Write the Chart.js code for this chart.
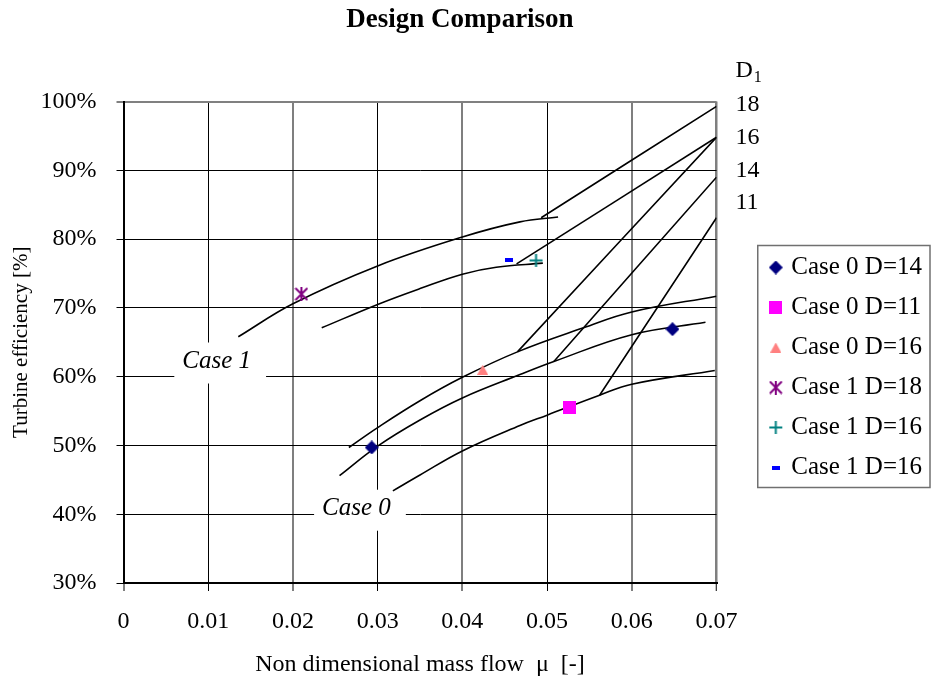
<!DOCTYPE html>
<html lang="en">
<head>
<meta charset="UTF-8" />
<title>Design Comparison</title>
<script src="https://cdn.jsdelivr.net/npm/chart.js@4.4.0"></script>
<style>
  html, body { margin: 0; padding: 0; background: #fff; }
</style>
</head>
<body>
<canvas id="designChart" width="932" height="682"></canvas>

<script>
  // axis ticks
  const xTickValues = [0, 0.01, 0.02, 0.03, 0.04, 0.05, 0.06, 0.07];
  const xTickLabels = ['0', '0.01', '0.02', '0.03', '0.04', '0.05', '0.06', '0.07'];
  const yTickValues = [30, 40, 50, 60, 70, 80, 90, 100];
  const yTickLabels = ['30%', '40%', '50%', '60%', '70%', '80%', '90%', '100%'];

  // D1 labels on the right, at the level of the line ends
  const dLabels = ['18', '16', '14', '11'];
  const dLabelLevels = [99.6, 94.8, 89.9, 85.3];

  // Case 1 curves (mass flow, efficiency %)
  const case1D18X = [0.01355, 0.0200, 0.0300, 0.0400, 0.0468, 0.0513];
  const case1D18Y = [65.8, 70.6, 76.1, 80.3, 82.5, 83.2];
  const case1D16X = [0.0234, 0.0300, 0.0350, 0.0400, 0.0440, 0.0495];
  const case1D16Y = [67.1, 70.5, 72.8, 74.9, 75.9, 76.5];

  // Case 0 curves
  const case0D16X = [0.0266, 0.0300, 0.0350, 0.0400, 0.0465, 0.0543, 0.0600, 0.0700];
  const case0D16Y = [49.7, 52.6, 56.5, 59.9, 63.6, 67.1, 69.4, 71.7];
  const case0D14X = [0.0255, 0.0300, 0.0350, 0.0400, 0.0468, 0.0508, 0.0600, 0.0687];
  const case0D14Y = [45.6, 49.9, 53.7, 56.9, 60.3, 62.2, 66.1, 67.9];
  const case0D11X = [0.0318, 0.0350, 0.0400, 0.0468, 0.0500, 0.0562, 0.0600, 0.0698];
  const case0D11Y = [43.4, 45.7, 49.2, 52.9, 54.4, 57.3, 58.9, 60.9];

  // straight lines of constant D1 running to the right edge
  const d18LineX = [0.0493, 0.0700];
  const d18LineY = [83.1, 99.3];
  const d16Case1LineX = [0.0464, 0.0700];
  const d16Case1LineY = [76.4, 94.8];
  const d16Case0LineX = [0.0465, 0.0700];
  const d16Case0LineY = [63.6, 94.8];
  const d14LineX = [0.0508, 0.0700];
  const d14LineY = [62.2, 89.0];
  const d11LineX = [0.0562, 0.0700];
  const d11LineY = [57.3, 83.1];

  // design points
  const markerNames = ['Case 0 D=14', 'Case 0 D=11', 'Case 0 D=16', 'Case 1 D=18', 'Case 1 D=16', 'Case 1 D=16'];
  const markerX = [[0.0293, 0.0648], [0.0527], [0.0424], [0.0210], [0.0487], [0.0455]];
  const markerY = [[49.7, 66.9], [55.5], [61.0], [72.0], [76.9], [77.0]];

  // in-plot labels
  const caseLabels = ['Case 1', 'Case 0'];
  const caseLabelX = [0.0110, 0.0275];
  const caseLabelY = [62.2, 40.8];

  const serif = '"Liberation Serif", "Times New Roman", serif';
  const ink = '#000';

  function makeMarker(w, h, paint) {
    const c = document.createElement('canvas');
    c.width = w;
    c.height = h;
    paint(c.getContext('2d'));
    return c;
  }

  // excel-like markers
  const markerStyles = [
    makeMarker(14, 14, c => {
      c.fillStyle = '#000080';
      c.beginPath(); c.moveTo(7, 0); c.lineTo(14, 7); c.lineTo(7, 14); c.lineTo(0, 7); c.closePath(); c.fill();
    }),
    makeMarker(13, 13, c => { c.fillStyle = '#ff00ff'; c.fillRect(0, 0, 13, 13); }),
    makeMarker(11, 10, c => {
      c.fillStyle = '#ff8080';
      c.beginPath(); c.moveTo(5.5, 0); c.lineTo(11, 10); c.lineTo(0, 10); c.closePath(); c.fill();
    }),
    makeMarker(14, 14, c => {
      c.strokeStyle = '#800080'; c.lineWidth = 2;
      c.beginPath();
      c.moveTo(1, 1); c.lineTo(13, 13);
      c.moveTo(13, 1); c.lineTo(1, 13);
      c.moveTo(7, 0); c.lineTo(7, 14);
      c.stroke();
    }),
    makeMarker(15, 15, c => {
      c.strokeStyle = '#008080'; c.lineWidth = 2;
      c.beginPath(); c.moveTo(7.5, 1); c.lineTo(7.5, 14); c.moveTo(1, 7.5); c.lineTo(14, 7.5); c.stroke();
    }),
    makeMarker(8, 4, c => { c.fillStyle = '#0000ff'; c.fillRect(0, 0, 8, 4); })
  ];

  const pts = (xs, ys) => xs.map((x, i) => ({ x: x, y: ys[i] }));

  const markerSets = markerNames.map((name, i) => ({
    label: name,
    data: pts(markerX[i], markerY[i]),
    pointStyle: markerStyles[i],
    pointRadius: 6,
    pointHoverRadius: 6,
    showLine: false
  }));

  const curve = (label, xs, ys) => ({
    label: label,
    data: pts(xs, ys),
    showLine: true,
    borderColor: ink,
    borderWidth: 1.6,
    pointRadius: 0,
    pointHoverRadius: 0,
    tension: 0.4,
    fill: false
  });

  const lineSets = [
    curve('case 1 D1=18', case1D18X, case1D18Y),
    curve('case 1 D1=16', case1D16X, case1D16Y),
    curve('case 0 D1=16', case0D16X, case0D16Y),
    curve('case 0 D1=14', case0D14X, case0D14Y),
    curve('case 0 D1=11', case0D11X, case0D11Y),
    curve('D1=18', d18LineX, d18LineY),
    curve('D1=16 case 1', d16Case1LineX, d16Case1LineY),
    curve('D1=16 case 0', d16Case0LineX, d16Case0LineY),
    curve('D1=14', d14LineX, d14LineY),
    curve('D1=11', d11LineX, d11LineY)
  ];

  const keyGap = 41.25;   // room for the D1 column between plot and key

  // case labels with white boxes, the key frame and the D1 column
  const extras = {
    id: 'extras',
    afterLayout(chart) {
      const lg = chart.legend;
      const w = lg.right - lg.left;
      lg.left = chart.chartArea.right + keyGap;
      lg.right = lg.left + w;
      lg.top += 26.5;
      lg.bottom += 26.5;
      chart.titleBlock.left = 0;
      chart.titleBlock.right = 920;
    },
    beforeDatasetsDraw(chart) {
      const { ctx, scales: { x, y } } = chart;
      ctx.save();
      ctx.font = 'italic 25px ' + serif;
      ctx.textAlign = 'center';
      ctx.textBaseline = 'middle';
      caseLabels.forEach((t, i) => {
        const px = x.getPixelForValue(caseLabelX[i]);
        const py = y.getPixelForValue(caseLabelY[i]);
        const w = ctx.measureText(t).width;
        ctx.fillStyle = '#fff';
        ctx.fillRect(px - w / 2 - 8, py - 19, w + 23, 41);
        ctx.fillStyle = ink;
        ctx.fillText(t, px, py);
      });
      ctx.restore();
    },
    afterDraw(chart) {
      const { ctx, legend, chartArea, scales: { y } } = chart;
      const hb = legend.legendHitBoxes;
      const first = hb[0], last = hb[hb.length - 1];
      const top = first.top - 9.5;
      const bottom = last.top + last.height + 7.5;
      ctx.save();
      ctx.strokeStyle = '#707070';
      ctx.lineWidth = 1.5;
      ctx.strokeRect(legend.left, top, 930 - legend.left, bottom - top);

      ctx.fillStyle = ink;
      ctx.textAlign = 'left';
      const lx = chartArea.right + 19;
      ctx.textBaseline = 'middle';
      ctx.font = '24px ' + serif;
      dLabels.forEach((t, i) => ctx.fillText(t, lx, y.getPixelForValue(dLabelLevels[i])));

      ctx.textBaseline = 'alphabetic';
      const ly = chartArea.top - 24.3;
      ctx.fillText('D', lx, ly);
      const dw = ctx.measureText('D').width;
      ctx.font = '16px ' + serif;
      ctx.fillText('1', lx + dw + 1, ly + 5);
      ctx.restore();
    }
  };

  Chart.defaults.font.family = serif;
  Chart.defaults.color = ink;

  new Chart(document.getElementById('designChart'), {
    type: 'scatter',
    data: { datasets: markerSets.concat(lineSets) },
    options: {
      responsive: false,
      animation: false,
      events: [],
      layout: { padding: { right: keyGap } },
      plugins: {
        title: {
          display: true,
          text: 'Design Comparison',
          color: ink,
          font: { size: 27, weight: 'bold' },
          padding: { top: 4.3, bottom: 64.8 }
        },
        legend: {
          position: 'right',
          labels: {
            usePointStyle: true,
            boxWidth: 6,
            padding: 15,
            color: ink,
            font: { size: 25 },
            filter: item => item.datasetIndex < markerNames.length
          }
        },
        tooltip: { enabled: false }
      },
      scales: {
        x: {
          type: 'linear',
          min: 0,
          max: 0.07,
          afterBuildTicks: s => { s.ticks = xTickValues.map(v => ({ value: v })); },
          afterFit: s => { s.height = 99; },
          ticks: {
            callback: (v, i) => xTickLabels[i],
            padding: 16,
            maxRotation: 0,
            autoSkip: false,
            color: ink,
            font: { size: 24 }
          },
          grid: {
            color: c => (c.index % 2 === 0 || c.index === 7 ? '#7f7f7f' : ink),
            lineWidth: c => (c.index === 7 ? 2.5 : c.index % 2 === 0 ? 2 : 1),
            tickLength: 8,
            tickColor: ink,
            tickWidth: 1
          },
          border: { color: ink, width: 2 },
          title: {
            display: true,
            text: 'Non dimensional mass flow  μ  [-]',
            color: ink,
            font: { size: 24 },
            padding: { top: 0, bottom: 3 }
          }
        },
        y: {
          type: 'linear',
          min: 30,
          max: 100,
          afterBuildTicks: s => { s.ticks = yTickValues.map(v => ({ value: v })); },
          afterFit: s => { s.width = 123.5; },
          ticks: {
            callback: (v, i) => yTickLabels[i],
            padding: 20,
            autoSkip: false,
            color: ink,
            font: { size: 24 }
          },
          grid: {
            color: c => (c.tick.value === 100 ? '#808080' : ink),
            lineWidth: c => (c.tick.value === 100 ? 2 : 1),
            tickLength: 7,
            tickColor: ink,
            tickWidth: 1
          },
          border: { color: ink, width: 2 },
          title: {
            display: true,
            text: 'Turbine efficiency [%]',
            color: ink,
            font: { size: 21 },
            padding: { top: 9, bottom: 0 }
          }
        }
      }
    },
    plugins: [extras]
  });
</script>
</body>
</html>
